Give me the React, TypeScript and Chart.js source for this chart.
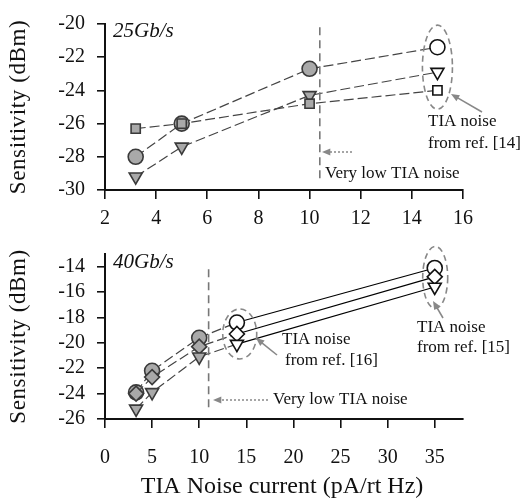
import { useEffect, useRef } from 'react';
import { Chart, registerables } from 'chart.js';
Chart.register(...registerables);

// ---------- data ----------
const topX = [3.2, 5, 10, 15];
const topSquare = [-26.3, -26.0, -24.8, -24.0];
const topCircle = [-28.0, -26.0, -22.7, -21.4];
const topTriangle = [-29.2, -27.4, -24.3, -22.9];

const botX = [3.3, 5, 10, 14, 35];
const botCircle = [-23.9, -22.2, -19.6, -18.4, -14.1];
const botDiamond = [-24.0, -22.7, -20.3, -19.3, -14.8];
const botTriangle = [-25.2, -23.9, -21.1, -20.1, -15.6];

const topXTicks = { min: 2, max: 16, step: 2 };
const topYTicks = { min: -30, max: -20, step: 2 };
const botXTicks = { min: 0, max: 38, step: 5 };
const botYTicks = { min: -26, max: -13, step: 2 };

const FONT = '"Liberation Serif", "Times New Roman", serif';
const GRAY = '#a9a9a9';
const EDGE = '#3a3a3a';

function pts(xs: number[], ys: number[]) {
  return xs.map((x, i) => ({ x, y: ys[i] }));
}

function ds(label: string, xs: number[], ys: number[], style: string, rot: number, hollowFrom: number, solidFrom: number) {
  const n = xs.length;
  return {
    label,
    data: pts(xs, ys),
    showLine: true,
    borderColor: '#444',
    borderWidth: 1.2,
    borderDash: [10, 4],
    segment: {
      borderDash: (c: any) => (c.p0DataIndex >= solidFrom ? [] : [10, 4]),
      borderColor: (c: any) => (c.p0DataIndex >= solidFrom ? '#000' : '#444'),
    },
    pointStyle: style,
    pointRotation: rot,
    pointRadius: style === 'rect' ? 6.5 : 7.5,
    pointHoverRadius: 7,
    pointBorderWidth: 1.6,
    pointBackgroundColor: Array.from({ length: n }, (_, i) => (i >= hollowFrom ? '#ffffff' : GRAY)),
    pointBorderColor: Array.from({ length: n }, (_, i) => (i >= hollowFrom ? '#111' : EDGE)),
    fill: false,
  };
}

function arrow(ctx: CanvasRenderingContext2D, x1: number, y1: number, x2: number, y2: number, color: string, dash: number[], lw: number) {
  const a = Math.atan2(y2 - y1, x2 - x1);
  const h = 9;
  ctx.save();
  ctx.strokeStyle = color;
  ctx.fillStyle = color;
  ctx.lineWidth = lw;
  ctx.setLineDash(dash);
  ctx.beginPath();
  ctx.moveTo(x1, y1);
  ctx.lineTo(x2 - Math.cos(a) * h * 0.8, y2 - Math.sin(a) * h * 0.8);
  ctx.stroke();
  ctx.setLineDash([]);
  ctx.beginPath();
  ctx.moveTo(x2, y2);
  ctx.lineTo(x2 - h * Math.cos(a - 0.4), y2 - h * Math.sin(a - 0.4));
  ctx.lineTo(x2 - h * Math.cos(a + 0.4), y2 - h * Math.sin(a + 0.4));
  ctx.closePath();
  ctx.fill();
  ctx.restore();
}

function ellipse(ctx: CanvasRenderingContext2D, cx: number, cy: number, rx: number, ry: number) {
  ctx.save();
  ctx.strokeStyle = '#888';
  ctx.lineWidth = 1.6;
  ctx.setLineDash([6, 4]);
  ctx.beginPath();
  ctx.ellipse(cx, cy, rx, ry, 0, 0, Math.PI * 2);
  ctx.stroke();
  ctx.restore();
}

function vline(ctx: CanvasRenderingContext2D, x: number, y1: number, y2: number) {
  ctx.save();
  ctx.strokeStyle = '#777';
  ctx.lineWidth = 1.6;
  ctx.setLineDash([8, 5]);
  ctx.beginPath();
  ctx.moveTo(x, y1);
  ctx.lineTo(x, y2);
  ctx.stroke();
  ctx.restore();
}

function text(ctx: CanvasRenderingContext2D, s: string, x: number, y: number, size: number, italic = false, align: CanvasTextAlign = 'left') {
  ctx.save();
  ctx.fillStyle = '#111';
  ctx.font = `${italic ? 'italic ' : ''}${size}px ${FONT}`;
  ctx.textAlign = align;
  ctx.textBaseline = 'middle';
  ctx.fillText(s, x, y);
  ctx.restore();
}

function yTitle(ctx: CanvasRenderingContext2D, s: string, x: number, y: number) {
  ctx.save();
  ctx.translate(x, y);
  ctx.rotate(-Math.PI / 2);
  ctx.fillStyle = '#111';
  ctx.font = `23px ${FONT}`;
  (ctx as any).letterSpacing = '0.6px';
  ctx.textAlign = 'center';
  ctx.textBaseline = 'middle';
  ctx.fillText(s, 0, 0);
  ctx.restore();
}

function scales(xt: any, yt: any, xPad: number, xH: number) {
  return {
    x: {
      type: 'linear' as const,
      min: xt.min,
      max: xt.max,
      ticks: {
        stepSize: xt.step,
        includeBounds: false,
        autoSkip: false,
        maxRotation: 0,
        padding: xPad,
        color: '#111',
        font: { family: FONT, size: 20 },
        callback: (v: any) => String(v),
      },
      grid: { drawOnChartArea: false, tickLength: 9, color: '#111', lineWidth: 1.6 },
      border: { color: '#111', width: 2 },
      afterFit: (s: any) => { s.height = xH; },
    },
    y: {
      type: 'linear' as const,
      min: yt.min,
      max: yt.max,
      ticks: {
        stepSize: yt.step,
        includeBounds: false,
        padding: 12,
        color: '#111',
        font: { family: FONT, size: 20 },
        callback: (v: any) => String(v),
      },
      grid: { drawOnChartArea: false, tickLength: 8, color: '#111', lineWidth: 1.6 },
      border: { color: '#111', width: 2 },
      afterFit: (s: any) => { s.width = 105; },
    },
  };
}

export default function App() {
  const topRef = useRef<HTMLCanvasElement>(null);
  const botRef = useRef<HTMLCanvasElement>(null);

  useEffect(() => {
    const topPlugin = {
      id: 'topAnn',
      afterDatasetsDraw(chart: any) {
        const ctx = chart.ctx as CanvasRenderingContext2D;
        const xs = chart.scales.x;
        const ys = chart.scales.y;
        const X = (v: number) => xs.getPixelForValue(v);
        const Y = (v: number) => ys.getPixelForValue(v);
        vline(ctx, X(10.4), Y(-20.2), Y(-29.5));
        ellipse(ctx, X(15), Y(-22.6), 15, 42);
        arrow(ctx, 482, 112, 451, 94, '#888', [], 1.6);
        text(ctx, 'TIA noise', 428, 122, 17);
        text(ctx, 'from ref. [14]', 428, 144, 17);
        arrow(ctx, 352, 152, 322, 152, '#888', [2, 2], 1.4);
        text(ctx, 'Very low TIA noise', 325, 174, 17);
        text(ctx, '25Gb/s', 113, 31, 21, true);
        yTitle(ctx, 'Sensitivity (dBm)', 19, (chart.chartArea.top + chart.chartArea.bottom) / 2);
      },
    };
    const botPlugin = {
      id: 'botAnn',
      afterDatasetsDraw(chart: any) {
        const ctx = chart.ctx as CanvasRenderingContext2D;
        const xs = chart.scales.x;
        const ys = chart.scales.y;
        const X = (v: number) => xs.getPixelForValue(v);
        const Y = (v: number) => ys.getPixelForValue(v);
        vline(ctx, X(11), Y(-14.2), Y(-25.4));
        ellipse(ctx, X(14.3), Y(-19.3), 17, 25);
        ellipse(ctx, X(35.05), Y(-14.85), 12.5, 31);
        arrow(ctx, 443, 88, 433, 71, '#888', [], 1.6);
        text(ctx, 'TIA noise', 417, 98, 17);
        text(ctx, 'from ref. [15]', 417, 118, 17);
        arrow(ctx, 277, 125, 256, 108, '#888', [], 1.6);
        text(ctx, 'TIA noise', 282, 110, 17);
        text(ctx, 'from ref. [16]', 285, 131, 17);
        arrow(ctx, 268, 170, 213, 170, '#888', [2, 2], 1.4);
        text(ctx, 'Very low TIA noise', 273, 170, 17);
        text(ctx, '40Gb/s', 113, 32, 21, true);
        yTitle(ctx, 'Sensitivity (dBm)', 19, (chart.chartArea.top + chart.chartArea.bottom) / 2);
        text(ctx, 'TIA Noise current (pA/rt Hz)', 282, 257, 24, false, 'center');
      },
    };

    const top = new Chart(topRef.current!, {
      type: 'line',
      data: {
        datasets: [
          ds('square', topX, topSquare, 'rect', 0, 3, 99),
          ds('triangle', topX, topTriangle, 'triangle', 180, 3, 99),
          ds('circle', topX, topCircle, 'circle', 0, 3, 99),
        ] as any,
      },
      options: {
        responsive: false,
        animation: false,
        layout: { padding: { top: 12, right: 59, left: 0, bottom: 0 } },
        plugins: { legend: { display: false }, tooltip: { enabled: false } },
        scales: scales(topXTicks, topYTicks, 8, 40) as any,
      },
      plugins: [topPlugin],
    });

    const bot = new Chart(botRef.current!, {
      type: 'line',
      data: {
        datasets: [
          ds('triangle', botX, botTriangle, 'triangle', 180, 3, 3),
          ds('diamond', botX, botDiamond, 'rectRot', 0, 3, 3),
          ds('circle', botX, botCircle, 'circle', 0, 3, 3),
        ] as any,
      },
      options: {
        responsive: false,
        animation: false,
        layout: { padding: { top: 13, right: 59, left: 0, bottom: 0 } },
        plugins: { legend: { display: false }, tooltip: { enabled: false } },
        scales: scales(botXTicks, botYTicks, 18, 85) as any,
      },
      plugins: [botPlugin],
    });

    return () => {
      top.destroy();
      bot.destroy();
    };
  }, []);

  return (
    <div style={{ position: 'absolute', left: 0, top: 0, width: 522, height: 504, background: '#fff' }}>
      <canvas ref={topRef} width={522} height={230} style={{ position: 'absolute', left: 0, top: 0, display: 'block' }} />
      <canvas ref={botRef} width={522} height={274} style={{ position: 'absolute', left: 0, top: 230, display: 'block' }} />
    </div>
  );
}
